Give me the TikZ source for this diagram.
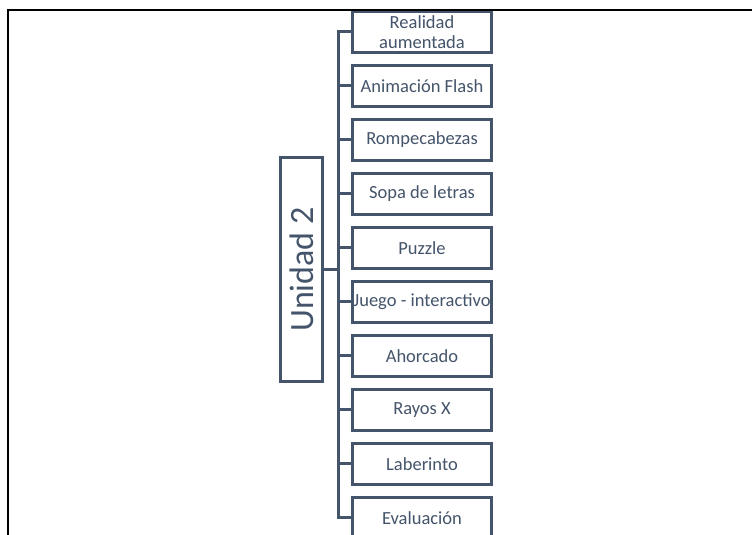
\documentclass[tikz,border=0pt]{standalone}
\usepackage{fontspec}
\setmainfont{Carlito}
\usepackage{tikz}
\usetikzlibrary{positioning}
\definecolor{slate}{HTML}{44546A}
\tikzstyle{item} = [draw=slate, line width=3pt, text=slate, fill=white, minimum width=139pt, minimum height=41pt, inner sep=0pt, align=center, font=\fontsize{18.5}{20}\selectfont]
\tikzstyle{unit} = [draw=slate, line width=3pt, text=slate, fill=white, rotate=90, minimum width=224pt, minimum height=42pt, inner sep=0pt, font=\fontsize{34}{36}\selectfont]
\tikzstyle{branch} = [draw=slate, line width=3pt]
\tikzstyle{frameline} = [draw=black, line width=2pt]

\begin{document}
\begin{tikzpicture}[x=1pt, y=1pt]
	\useasboundingbox (0,0) rectangle (752,535);
	\node[unit] (unidad) at (301.5,265.5) {Unidad 2};
	\coordinate (fork) at (338,265.5);
	\node[item] (realidad) at (422,503) {Realidad\\aumentada};
	\node[item] (animacion) at (422,449) {Animación Flash};
	\node[item] (rompe) at (422,395) {Rompecabezas};
	\node[item] (sopa) at (422,341) {Sopa de letras};
	\node[item] (puzzle) at (422,287) {Puzzle};
	\node[item] (juego) at (422,233) {Juego - interactivo};
	\node[item] (ahorcado) at (422,179) {Ahorcado};
	\node[item] (rayos) at (422,125) {Rayos X};
	\node[item] (laberinto) at (422,71) {Laberinto};
	\node[item] (evaluacion) at (422,17) {Evaluación};
	\draw[branch] (unidad.south) -- (fork);
	\draw[branch] (fork) |- (realidad.west);
	\draw[branch] (fork) |- (animacion.west);
	\draw[branch] (fork) |- (rompe.west);
	\draw[branch] (fork) |- (sopa.west);
	\draw[branch] (fork) |- (puzzle.west);
	\draw[branch] (fork) |- (juego.west);
	\draw[branch] (fork) |- (ahorcado.west);
	\draw[branch] (fork) |- (rayos.west);
	\draw[branch] (fork) |- (laberinto.west);
	\draw[branch] (fork) |- (evaluacion.west);
	\draw[frameline] (8,0) -- (8,525) -- (752,525);
\end{tikzpicture}
\end{document}
